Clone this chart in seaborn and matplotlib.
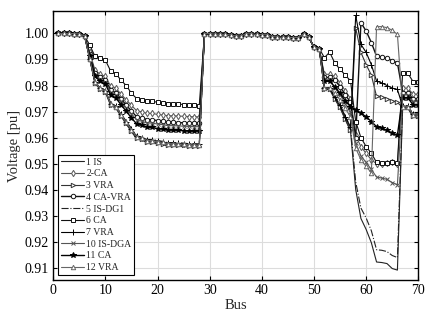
import numpy as np
import pandas as pd
import matplotlib
matplotlib.use("Agg")
import matplotlib.pyplot as plt
import seaborn as sns

bus = list(range(1, 71))

head = [1.0000, 1.0000, 1.0000, 0.9999, 0.9998, 0.9990]
lateral = [0.9999, 0.9999, 0.9997, 0.9997, 0.9996, 0.9994, 0.9990, 0.9990,
           0.9999, 0.9998, 0.9996, 0.9995, 0.9995, 0.9988, 0.9986, 0.9985,
           0.9985, 0.9984, 0.9984, 0.9998, 0.9985, 0.9947, 0.9942]

v_1_is = head + [0.9901, 0.9808, 0.9786, 0.9774, 0.9724, 0.9713, 0.9682, 0.9652, 0.9623, 0.9595, 0.9590,
                 0.9581, 0.9581, 0.9576, 0.9573, 0.9568, 0.9568, 0.9568, 0.9566, 0.9564, 0.9564, 0.9563] + lateral + \
         [0.9785, 0.9785, 0.9747, 0.9714, 0.9669, 0.9626, 0.9401, 0.9290, 0.9248, 0.9197, 0.9123, 0.9121,
          0.9117, 0.9098, 0.9092, 0.9713, 0.9713, 0.9679, 0.9679]
v_2_ca = head + [0.9927, 0.9859, 0.9843, 0.9835, 0.9798, 0.9790, 0.9767, 0.9745, 0.9724, 0.9703, 0.9699,
                 0.9693, 0.9693, 0.9689, 0.9687, 0.9684, 0.9684, 0.9683, 0.9682, 0.9681, 0.9680, 0.9680] + lateral + \
         [0.9843, 0.9843, 0.9835, 0.9810, 0.9780, 0.9750, 0.9610, 0.9565, 0.9540, 0.9515, 0.9500, 0.9500,
          0.9502, 0.9505, 0.9500, 0.9790, 0.9790, 0.9767, 0.9767]
v_3_vra = head + [0.9902, 0.9810, 0.9788, 0.9777, 0.9727, 0.9716, 0.9685, 0.9656, 0.9627, 0.9599, 0.9594,
                  0.9585, 0.9585, 0.9580, 0.9577, 0.9573, 0.9573, 0.9572, 0.9570, 0.9569, 0.9568, 0.9568] + lateral + \
          [0.9788, 0.9788, 0.9750, 0.9717, 0.9672, 0.9629, 1.0020, 0.9927, 0.9880, 0.9840, 0.9758, 0.9755,
           0.9750, 0.9742, 0.9735, 0.9716, 0.9716, 0.9685, 0.9685]
v_4_cavra = head + [0.9922, 0.9848, 0.9831, 0.9822, 0.9782, 0.9773, 0.9748, 0.9725, 0.9702, 0.9680, 0.9676,
                    0.9669, 0.9669, 0.9665, 0.9663, 0.9659, 0.9659, 0.9658, 0.9657, 0.9656, 0.9655, 0.9655] + lateral + \
            [0.9831, 0.9831, 0.9822, 0.9795, 0.9765, 0.9735, 0.9600, 1.0041, 1.0009, 0.9965, 0.9912, 0.9910,
             0.9905, 0.9895, 0.9887, 0.9773, 0.9773, 0.9748, 0.9748]
v_5_isdg1 = head + [0.9904, 0.9814, 0.9792, 0.9781, 0.9733, 0.9722, 0.9691, 0.9663, 0.9635, 0.9607, 0.9602,
                    0.9593, 0.9593, 0.9589, 0.9586, 0.9581, 0.9581, 0.9581, 0.9579, 0.9577, 0.9577, 0.9576] + lateral + \
            [0.9792, 0.9792, 0.9755, 0.9724, 0.9681, 0.9640, 0.9430, 0.9330, 0.9292, 0.9243, 0.9170, 0.9168,
             0.9163, 0.9148, 0.9140, 0.9722, 0.9722, 0.9691, 0.9691]
v_6_ca = head + [0.9955, 0.9912, 0.9904, 0.9897, 0.9856, 0.9846, 0.9820, 0.9800, 0.9770, 0.9750, 0.9745,
                 0.9740, 0.9739, 0.9736, 0.9734, 0.9731, 0.9730, 0.9729, 0.9727, 0.9725, 0.9724, 0.9723] + lateral + \
         [0.9907, 0.9928, 0.9886, 0.9862, 0.9840, 0.9818, 0.9662, 0.9600, 0.9566, 0.9540, 0.9505, 0.9503,
          0.9503, 0.9507, 0.9502, 0.9847, 0.9847, 0.9815, 0.9815]
v_7_vra = head + [0.9903, 0.9813, 0.9791, 0.9780, 0.9731, 0.9720, 0.9689, 0.9661, 0.9633, 0.9605, 0.9600,
                  0.9591, 0.9591, 0.9587, 0.9584, 0.9579, 0.9579, 0.9578, 0.9577, 0.9575, 0.9575, 0.9574] + lateral + \
          [0.9791, 0.9791, 0.9755, 0.9724, 0.9681, 0.9640, 1.0069, 0.9958, 0.9927, 0.9880, 0.9817, 0.9810,
           0.9800, 0.9790, 0.9785, 0.9720, 0.9720, 0.9689, 0.9689]
v_10_isdga = head + [0.9919, 0.9842, 0.9824, 0.9815, 0.9774, 0.9765, 0.9739, 0.9715, 0.9691, 0.9668, 0.9663,
                     0.9656, 0.9656, 0.9652, 0.9650, 0.9646, 0.9646, 0.9645, 0.9644, 0.9643, 0.9642, 0.9642] + lateral + \
             [0.9824, 0.9824, 0.9790, 0.9765, 0.9730, 0.9700, 0.9580, 0.9530, 0.9505, 0.9478, 0.9449, 0.9445,
              0.9440, 0.9428, 0.9419, 0.9765, 0.9765, 0.9739, 0.9739]
v_11_ca = head + [0.9915, 0.9835, 0.9816, 0.9806, 0.9763, 0.9753, 0.9726, 0.9701, 0.9676, 0.9652, 0.9647,
                  0.9640, 0.9639, 0.9635, 0.9633, 0.9629, 0.9629, 0.9628, 0.9627, 0.9625, 0.9625, 0.9625] + lateral + \
          [0.9816, 0.9816, 0.9795, 0.9770, 0.9742, 0.9718, 0.9708, 0.9694, 0.9680, 0.9662, 0.9642, 0.9636,
           0.9628, 0.9618, 0.9610, 0.9753, 0.9753, 0.9726, 0.9726]
v_12_vra = head + [0.9903, 0.9812, 0.9790, 0.9779, 0.9730, 0.9719, 0.9688, 0.9659, 0.9631, 0.9603, 0.9598,
                   0.9589, 0.9589, 0.9585, 0.9582, 0.9577, 0.9577, 0.9576, 0.9575, 0.9573, 0.9572, 0.9572] + lateral + \
           [0.9790, 0.9790, 0.9770, 0.9745, 0.9712, 0.9680, 0.9560, 0.9515, 0.9490, 0.9465, 1.0026, 1.0026,
            1.0022, 1.0012, 0.9996, 0.9719, 0.9719, 0.9688, 0.9688]

labels = ["1 IS", "2-CA", "3 VRA", "4 CA-VRA", "5 IS-DG1", "6 CA", "7 VRA",
          "10 IS-DGA", "11 CA", "12 VRA"]
series = [v_1_is, v_2_ca, v_3_vra, v_4_cavra, v_5_isdg1, v_6_ca, v_7_vra,
          v_10_isdga, v_11_ca, v_12_vra]

styles = {
    "1 IS":      dict(color="#222222", ls="-",  marker=None, mfc="none", lw=0.8),
    "2-CA":      dict(color="#555555", ls="-",  marker="d", mfc="white", lw=0.8),
    "3 VRA":     dict(color="#333333", ls="-",  marker=">", mfc="white", lw=0.8),
    "4 CA-VRA":  dict(color="#111111", ls="-",  marker="o", mfc="white", lw=1.0),
    "5 IS-DG1":  dict(color="#222222", ls="-.", marker=None, mfc="none", lw=0.8),
    "6 CA":      dict(color="#111111", ls="-",  marker="s", mfc="white", lw=0.8),
    "7 VRA":     dict(color="#000000", ls="-",  marker="+", mfc="none", lw=0.8),
    "10 IS-DGA": dict(color="#555555", ls="-",  marker="x", mfc="none", lw=0.8),
    "11 CA":     dict(color="#000000", ls="-",  marker="*", mfc="#000000", lw=1.0),
    "12 VRA":    dict(color="#666666", ls="-",  marker="^", mfc="white", lw=0.8),
}

df = pd.DataFrame({"Bus": bus * len(labels),
                   "Voltage": [v for s in series for v in s],
                   "Case": [lab for lab in labels for _ in bus]})

sns.set_theme(style="ticks")
plt.rcParams["font.family"] = ["Liberation Serif", "DejaVu Serif"]
plt.rcParams["mathtext.fontset"] = "stix"

fig = plt.figure(figsize=(4.33, 3.18), dpi=100)
ax = fig.add_axes([0.123, 0.1195, 0.843, 0.846])

for lab in labels:
    st = styles[lab]
    sub = df[df["Case"] == lab]
    sns.lineplot(data=sub, x="Bus", y="Voltage", ax=ax, label=lab,
                 color=st["color"], linestyle=st["ls"], linewidth=st["lw"],
                 marker=st["marker"], markersize=3.2 if st["marker"] not in ("+", "*") else 4.2,
                 markerfacecolor=st["mfc"], markeredgecolor=st["color"],
                 markeredgewidth=0.7, sort=False, estimator=None, errorbar=None)

ax.set_xlim(0, 70)
ax.set_ylim(0.9054, 1.0086)
ax.set_xticks(range(0, 71, 10))
ax.set_yticks([0.91, 0.92, 0.93, 0.94, 0.95, 0.96, 0.97, 0.98, 0.99, 1.00])
ax.set_yticklabels([f"{t:.2f}" for t in ax.get_yticks()])
ax.grid(True, color="#dcdcdc", linewidth=0.8)
ax.set_axisbelow(True)
ax.tick_params(direction="in", top=True, right=True, length=3, width=0.8,
               labelsize=10, colors="black", pad=3)
for sp in ax.spines.values():
    sp.set_color("black")
    sp.set_linewidth(1.0)
ax.set_xlabel("Bus", fontsize=10.5, labelpad=1)
ax.set_ylabel("Voltage [pu]", fontsize=10.5, labelpad=3)

leg = ax.legend(loc="lower left", fontsize=7, frameon=True, fancybox=False,
                edgecolor="black", framealpha=1.0, handlelength=2.4,
                handletextpad=0.2, labelspacing=0.28, borderpad=0.3,
                borderaxespad=0.5)
leg.get_frame().set_linewidth(0.8)

fig.savefig("out.png", dpi=100)
